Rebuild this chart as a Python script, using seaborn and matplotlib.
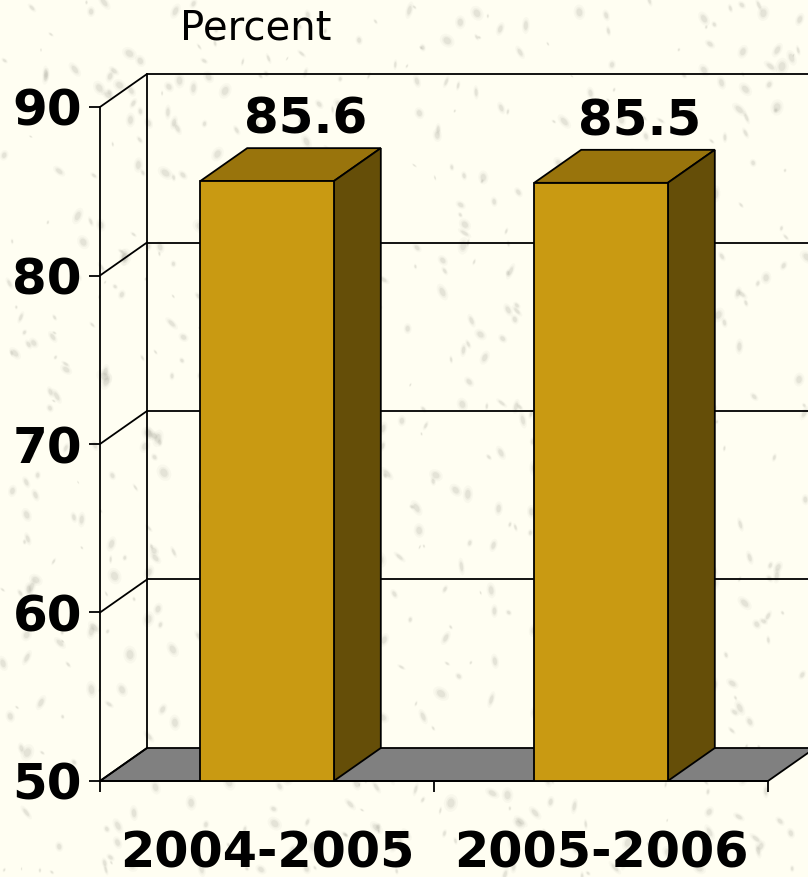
import numpy as np
import pandas as pd
import matplotlib
matplotlib.use("Agg")
import matplotlib.pyplot as plt
from matplotlib.patches import Polygon
from matplotlib.collections import EllipseCollection
import seaborn as sns

years = ["2004-2005", "2005-2006"]
percent = [85.6, 85.5]
y_ticks = [50, 60, 70, 80, 90]
y_floor = 50
y_top = 90

W, H = 808, 877
BG = "#FFFEF2"
FRONT = "#C99A12"
TOP = "#99740C"
SIDE = "#654E08"
FLOOR = "#808080"

sns.set_theme(style="white")
plt.rcParams["font.family"] = ["DejaVu Sans"]

fig = plt.figure(figsize=(W / 100, H / 100), dpi=100, facecolor=BG)

# speckled paper texture (decorative only)
bg = fig.add_axes([0, 0, 1, 1], zorder=0)
bg.set_xlim(0, W)
bg.set_ylim(H, 0)
bg.axis("off")
rng = np.random.default_rng(7)
n = 800
xy = np.column_stack([rng.uniform(0, W, n), rng.uniform(0, H, n)])
widths = rng.uniform(2, 9, n)
heights = widths * rng.uniform(0.35, 0.8, n)
angles = rng.uniform(30, 120, n)
for scale, alpha in [(2.0, 0.04), (1.4, 0.06), (1.0, 0.10)]:
    bg.add_collection(EllipseCollection(widths * scale, heights * scale, angles, units="xy", offsets=xy,
                                        offset_transform=bg.transData,
                                        facecolors="#77776a", alpha=alpha, linewidths=0))

ax = fig.add_axes([100 / W, (H - 781) / H, 668 / W, 674 / H], zorder=1)
ax.patch.set_alpha(0)

df = pd.DataFrame({"year": years, "percent": percent})
sns.barplot(data=df, x="year", y="percent", color=FRONT, saturation=1, width=0.4,
            edgecolor="black", linewidth=1.3, ax=ax, zorder=5)
ax.set_xlim(-0.5, 1.5)
ax.set_ylim(y_floor, y_top)

# 3-D depth of the chart box, in data units
DX = 47 / 334
DY = 33 / (674 / (y_top - y_floor))
LW = 1.3

# floor
ax.add_patch(Polygon([(-0.5, y_floor), (1.5, y_floor), (1.5 + DX, y_floor + DY), (-0.5 + DX, y_floor + DY)],
                     closed=True, facecolor=FLOOR, edgecolor="black", linewidth=LW, clip_on=False, zorder=1))
# back wall and left wall lines
x_back = -0.5 + DX
ax.plot([x_back, x_back], [y_floor + DY, y_top + DY], color="black", lw=LW, clip_on=False, zorder=2)
for v in y_ticks[1:]:
    ax.plot([x_back, 1.5 + DX], [v + DY, v + DY], color="black", lw=LW, clip_on=False, zorder=2)
for v in y_ticks:
    ax.plot([-0.5, x_back], [v, v + DY], color="black", lw=LW, clip_on=False, zorder=2)

# bar top and side faces, built from the bars seaborn drew
for bar, val in zip(ax.patches[:len(percent)], percent):
    x0 = bar.get_x()
    x1 = x0 + bar.get_width()
    ax.add_patch(Polygon([(x0, val), (x1, val), (x1 + DX, val + DY), (x0 + DX, val + DY)],
                         closed=True, facecolor=TOP, edgecolor="black", linewidth=LW, clip_on=False, zorder=4))
    ax.add_patch(Polygon([(x1, y_floor), (x1 + DX, y_floor + DY), (x1 + DX, val + DY), (x1, val)],
                         closed=True, facecolor=SIDE, edgecolor="black", linewidth=LW, clip_on=False, zorder=4))
    ax.annotate(f"{val:.1f}", xy=((x0 + x1) / 2 + DX * 0.83, val + DY), xytext=(0, 3),
                textcoords="offset points", ha="center", va="bottom",
                fontsize=36, fontweight="bold", color="black", zorder=6)

# axes
for s in ["top", "right"]:
    ax.spines[s].set_visible(False)
for s in ["left", "bottom"]:
    ax.spines[s].set_visible(True)
    ax.spines[s].set_color("black")
    ax.spines[s].set_linewidth(LW)
    ax.spines[s].set_zorder(7)
ax.set_xlabel("")
ax.set_ylabel("")
ax.set_yticks(y_ticks)
ax.set_yticklabels([str(v) for v in y_ticks], fontsize=36, fontweight="bold", color="black")
ax.tick_params(axis="y", left=True, length=8, width=LW, pad=5, color="black")
ax.set_xticks([0, 1])
ax.set_xticklabels(years, fontsize=35.5, fontweight="bold", color="black")
ax.set_xticks([-0.5, 0.5, 1.5], minor=True)
ax.tick_params(axis="x", which="major", bottom=False, length=0, pad=35)
ax.tick_params(axis="x", which="minor", bottom=True, length=8, width=LW, color="black")

fig.text(256 / W, 1 - 29 / H, "Percent", ha="center", va="center", fontsize=29, color="black", zorder=3)

fig.savefig("out.png", dpi=100, facecolor=BG)
